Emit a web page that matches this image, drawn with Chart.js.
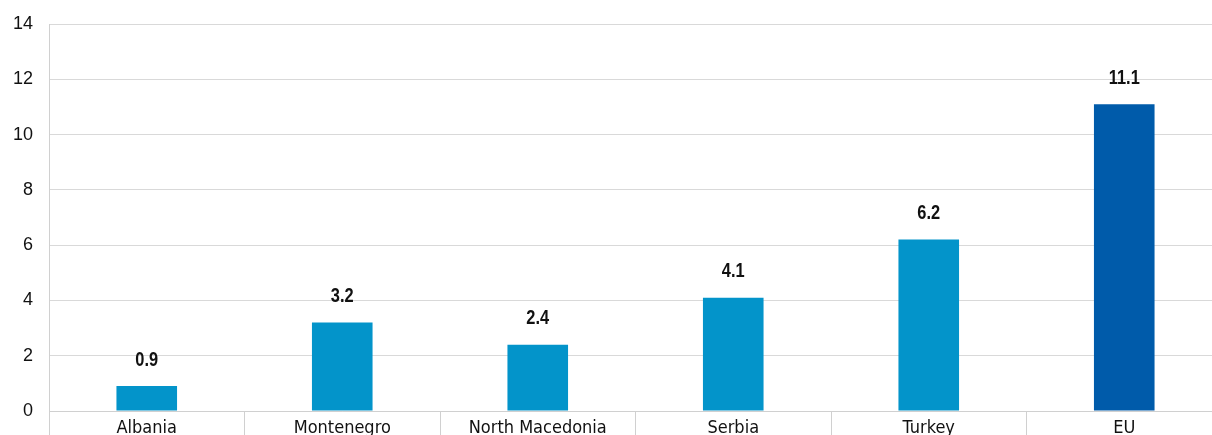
<!DOCTYPE html>
<html>
<head>
<meta charset="utf-8">
<script src="https://cdn.jsdelivr.net/npm/chart.js@4.4.1/dist/chart.umd.min.js"></script>
<style>
  html, body { margin: 0; padding: 0; background: #fff; overflow: hidden; }
  #wrap { width: 1222px; height: 435px; position: relative; }
</style>
</head>
<body>
<div id="wrap"><canvas id="chart"></canvas></div>
<script>
// chart data
const countries = ['Albania', 'Montenegro', 'North Macedonia', 'Serbia', 'Turkey', 'EU'];
const values = [0.9, 3.2, 2.4, 4.1, 6.2, 11.1];
const barColors = ['#0394ca', '#0394ca', '#0394ca', '#0394ca', '#0394ca', '#005baa'];
const yMin = 0;
const yMax = 14;
const yStep = 2;

const narrow = '"DejaVu Sans Condensed", "Liberation Sans Narrow", sans-serif';

// value labels above bars (squeezed a bit to look condensed)
const valueLabels = {
  id: 'valueLabels',
  afterDatasetsDraw(chart) {
    const ctx = chart.ctx;
    const meta = chart.getDatasetMeta(0);
    ctx.save();
    ctx.font = 'bold 20px "Liberation Sans", Arial, sans-serif';
    ctx.fillStyle = '#111';
    ctx.textAlign = 'center';
    ctx.textBaseline = 'middle';
    meta.data.forEach((bar, i) => {
      ctx.save();
      ctx.translate(bar.x, bar.y - 26);
      ctx.scale(0.82, 1);
      ctx.fillText(values[i].toFixed(1), 0, 0);
      ctx.restore();
    });
    ctx.restore();
  }
};

new Chart(document.getElementById('chart'), {
  type: 'bar',
  data: {
    labels: countries,
    datasets: [{
      data: values,
      backgroundColor: barColors,
      barPercentage: 0.31,
      categoryPercentage: 1
    }]
  },
  options: {
    responsive: true,
    maintainAspectRatio: false,
    animation: false,
    layout: { padding: { top: 24, left: 0, right: 0, bottom: 0 } },
    plugins: {
      legend: { display: false },
      tooltip: { enabled: false }
    },
    scales: {
      x: {
        grid: {
          offset: true,
          drawOnChartArea: false,
          drawTicks: true,
          tickLength: 24,
          color: '#d0d0d0'
        },
        border: { display: true, color: '#d0d0d0' },
        ticks: {
          padding: -17,
          color: '#111',
          font: { family: narrow, size: 18 },
          maxRotation: 0,
          autoSkip: false
        },
        afterFit(scale) {
          scale.height = 24;
          scale.paddingLeft = 0;
          scale.paddingRight = 0;
        }
      },
      y: {
        min: yMin,
        max: yMax,
        grid: { color: '#d9d9d9', drawTicks: false },
        border: { display: true, color: '#d0d0d0' },
        ticks: {
          stepSize: yStep,
          padding: 16,
          color: '#111',
          font: { family: '"Liberation Sans", Arial, sans-serif', size: 18 }
        },
        afterFit(scale) {
          scale.width = 49;
          scale.paddingTop = 0;
          scale.paddingBottom = 0;
        }
      }
    }
  },
  plugins: [valueLabels]
});
</script>
</body>
</html>
